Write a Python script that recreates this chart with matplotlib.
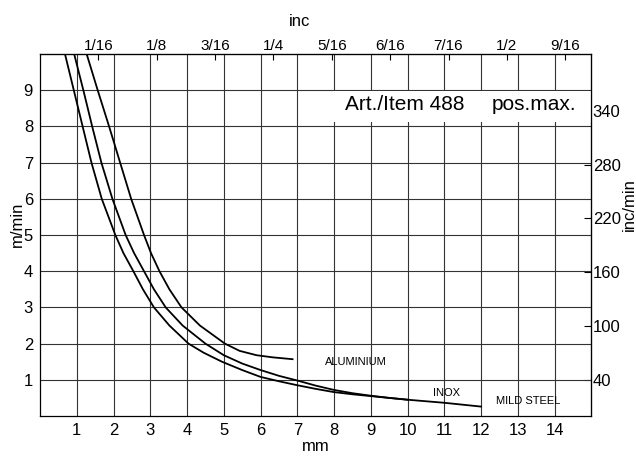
import matplotlib
matplotlib.use('Agg')
import matplotlib.pyplot as plt
from matplotlib.patches import Rectangle

plt.rcParams['font.family'] = ['Liberation Sans', 'DejaVu Sans']

# speed curves: bar diameter (mm) -> speed (m/min)
alu_mm = [1.27, 1.57, 1.88, 2.18, 2.48, 2.83, 3.02, 3.25, 3.52, 3.85, 4.35, 5.03, 5.43, 5.89, 6.34, 6.87]
alu_speed = [10, 9, 8, 7, 6, 5, 4.5, 4, 3.5, 3, 2.5, 2, 1.8, 1.68, 1.62, 1.57]

inox_mm = [0.93, 1.18, 1.42, 1.67, 1.97, 2.33, 2.56, 2.83, 3.10, 3.42, 3.88, 4.5, 5.0, 5.5, 6.0, 6.5, 7.0, 7.5, 8.0, 8.5, 9.0, 9.5, 10.0]
inox_speed = [10, 9, 8, 7, 6, 5, 4.5, 4, 3.5, 3, 2.5, 2, 1.68, 1.45, 1.27, 1.11, 0.98, 0.84, 0.72, 0.63, 0.56, 0.50, 0.45]

steel_mm = [0.68, 0.92, 1.16, 1.40, 1.68, 2.05, 2.27, 2.54, 2.80, 3.10, 3.52, 4.04, 4.45, 4.95, 5.5, 6.0, 6.5, 7.0, 7.5, 8.0, 8.5, 9.0, 10.0, 11.0, 12.0]
steel_speed = [10, 9, 8, 7, 6, 5, 4.5, 4, 3.5, 3, 2.5, 2, 1.75, 1.5, 1.27, 1.08, 0.96, 0.85, 0.75, 0.66, 0.60, 0.55, 0.45, 0.365, 0.26]

mm_ticks = list(range(1, 15))
speed_ticks = list(range(1, 10))
inch_ticks = [1/16, 2/16, 3/16, 4/16, 5/16, 6/16, 7/16, 8/16, 9/16]
inch_labels = ['1/16', '1/8', '3/16', '1/4', '5/16', '6/16', '7/16', '1/2', '9/16']
ipm_ticks = [40, 100, 160, 220, 280, 340]

IPM_PER_MPM = 40.3

fig = plt.figure(figsize=(6.36, 4.61), dpi=100)
ax = fig.add_axes([0.0629, 0.0976, 0.867, 0.785])

ax.set_xlim(0, 15)
ax.set_ylim(0, 10)
ax.set_axisbelow(True)
ax.set_xticks(mm_ticks)
ax.set_yticks(speed_ticks)
ax.grid(True, color='0.2', lw=0.8)
ax.tick_params(length=0, labelsize=12, pad=5)
for sp in ax.spines.values():
    sp.set_linewidth(0.9)

ax.set_xlabel('mm', fontsize=12, labelpad=1)
ax.set_ylabel('m/min', fontsize=12)
ax.yaxis.set_label_coords(-0.028, 0.53)

# white box behind the item text
ax.add_patch(Rectangle((7.97, 8.12), 7.03, 0.85, facecolor='white', edgecolor='none', zorder=1))

for xs, ys in [(alu_mm, alu_speed), (inox_mm, inox_speed), (steel_mm, steel_speed)]:
    ax.plot(xs, ys, color='black', lw=1.3, zorder=2)

ax.text(8.6, 1.5, 'ALUMINIUM', fontsize=8, ha='center', va='center')
ax.text(11.05, 0.63, 'INOX', fontsize=8, ha='center', va='center')
ax.text(13.27, 0.42, 'MILD STEEL', fontsize=8, ha='center', va='center')

ax.text(8.29, 8.6, 'Art./Item 488', fontsize=15, ha='left', va='center', zorder=3)
ax.text(12.3, 8.6, 'pos.max.', fontsize=15, ha='left', va='center', zorder=3)

top = ax.secondary_xaxis('top', functions=(lambda m: m / 25.4, lambda i: i * 25.4))
top.set_xticks(inch_ticks)
top.set_xticklabels(inch_labels)
top.tick_params(direction='in', length=4, labelsize=11, pad=1)
fig.text(300 / 636, 1 - 21 / 461, 'inc', fontsize=12, ha='center', va='center')

right = ax.secondary_yaxis('right', functions=(lambda m: m * IPM_PER_MPM, lambda i: i / IPM_PER_MPM))
right.set_yticks(ipm_ticks)
right.tick_params(direction='in', length=5, labelsize=12, pad=1)
fig.text(629 / 636, 1 - 205 / 461, 'inc/min', fontsize=12, rotation=90, ha='center', va='center')

fig.savefig('out.png', dpi=100)
